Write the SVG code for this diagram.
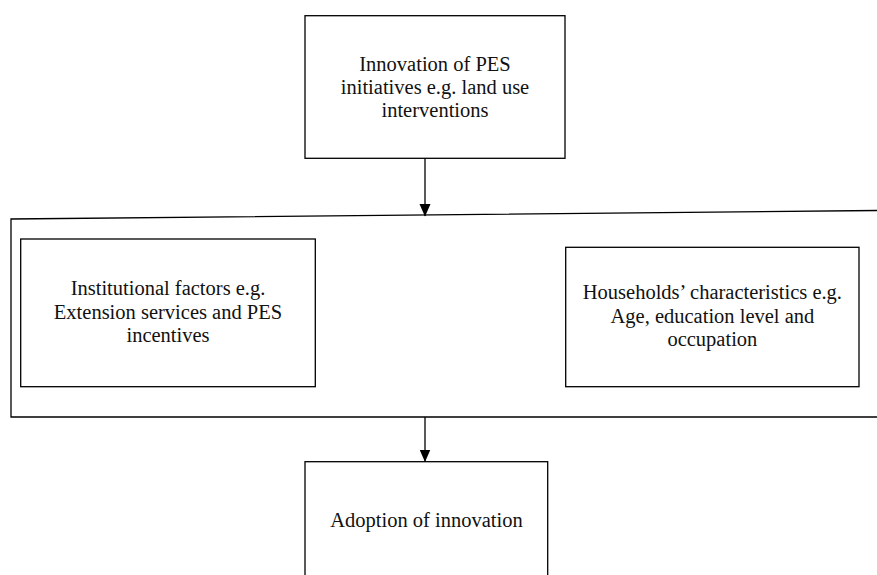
<svg xmlns="http://www.w3.org/2000/svg" width="877" height="575" viewBox="0 0 877 575">
<style>
.box{fill:#fff;stroke:#000;stroke-width:1.3}
.frame{fill:none;stroke:#000;stroke-width:1.3}
.conn{stroke:#000;stroke-width:1.3;fill:none}
text{font-family:"Liberation Serif","Times New Roman",serif;font-size:20.5px;fill:#111;text-anchor:middle}
</style>
<defs>
<marker id="arr" markerUnits="userSpaceOnUse" markerWidth="12" markerHeight="13" refX="6" refY="12" orient="auto-start-reverse" viewBox="0 0 12 13">
<path d="M0.5,0 L11.5,0 L6,12 Z" fill="#000" transform="rotate(-90 6 6)"/>
</marker>
<marker id="arrd" markerUnits="userSpaceOnUse" markerWidth="12" markerHeight="13" refX="6" refY="12" orient="0" viewBox="0 0 12 13">
<path d="M0.5,0 L11.5,0 L6,12.5 Z" fill="#000"/>
</marker>
</defs>
<rect width="877" height="575" fill="#fff"/>
<g id="group-frame">
<path class="frame" d="M877,210.5 L11,219 L11,417 L877,417"/>
</g>
<g id="node-innovation">
<rect class="box" x="305" y="15.7" width="260" height="142.6"/>
<text x="435" y="70.5">Innovation of PES</text>
<text x="435" y="93.5">initiatives e.g. land use</text>
<text x="435" y="116.5">interventions</text>
</g>
<g id="node-institutional">
<rect class="box" x="20.7" y="239" width="294.6" height="147.7"/>
<text x="168" y="295">Institutional factors e.g.</text>
<text x="168" y="318.5">Extension services and PES</text>
<text x="168" y="342">incentives</text>
</g>
<g id="node-households">
<rect class="box" x="565.7" y="247.3" width="293.3" height="139.4"/>
<text x="712.4" y="299">Households’ characteristics e.g.</text>
<text x="712.4" y="322.5">Age, education level and</text>
<text x="712.4" y="346">occupation</text>
</g>
<g id="node-adoption">
<rect class="box" x="305" y="461.7" width="242.7" height="130"/>
<text x="426.5" y="526.7">Adoption of innovation</text>
</g>
<g id="connectors">
<line class="conn" x1="425" y1="158.3" x2="425" y2="216" marker-end="url(#arrd)"/>
<line class="conn" x1="425" y1="417" x2="425" y2="461.5" marker-end="url(#arrd)"/>
</g>
</svg>
